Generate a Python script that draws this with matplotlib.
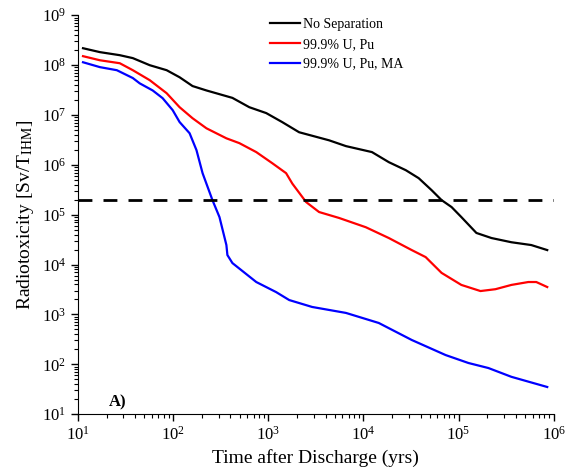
import matplotlib
matplotlib.use("Agg")
import matplotlib.pyplot as plt
import matplotlib.ticker as mticker
import numpy as np

plt.rcParams['font.family'] = ['Liberation Serif', 'DejaVu Serif']
plt.rcParams['mathtext.fontset'] = 'stix'

# No separation
t_none = [11.3, 17.0, 27.5, 37.7, 56.8, 85.5, 117, 160, 224, 420, 632, 952, 1400, 2110,
          4360, 6560, 12300, 18500, 27900, 38100, 52100, 66300, 84500, 107000, 154000,
          222000, 359000, 581000, 855000]
r_none = [2.18e8, 1.82e8, 1.58e8, 1.38e8, 9.95e7, 7.9e7, 5.7e7, 3.8e7, 3.1e7, 2.2e7, 1.43e7,
          1.09e7, 7.2e6, 4.5e6, 3.1e6, 2.37e6, 1.8e6, 1.13e6, 7.8e5, 5.4e5, 3.1e5, 1.96e5,
          1.42e5, 8.95e4, 4.3e4, 3.4e4, 2.8e4, 2.46e4, 1.95e4]

# 99.9% U, Pu
t_upu = [11.3, 17.0, 27.5, 37.7, 56.8, 85.5, 117, 160, 224, 363, 497, 748, 1100, 1540, 1790,
         2500, 3420, 5540, 10600, 18500, 32200, 45100, 66300, 107000, 170000, 244000,
         359000, 541000, 656000, 855000]
r_upu = [1.51e8, 1.25e8, 1.09e8, 7.9e7, 4.98e7, 2.73e7, 1.43e7, 8.6e6, 5.4e6, 3.4e6, 2.72e6,
         1.8e6, 1.08e6, 6.8e5, 4.2e5, 1.79e5, 1.13e5, 8.6e4, 5.6e4, 3.4e4, 1.95e4, 1.41e4,
         6.8e3, 3.9e3, 2.94e3, 3.2e3, 3.9e3, 4.46e3, 4.46e3, 3.54e3]

# 99.9% U, Pu, MA
t_ma = [11.3, 17.0, 25.6, 37.7, 44.6, 61, 77.6, 98.9, 117, 149, 176, 204, 259, 307, 363, 372,
        420, 748, 1210, 1660, 2890, 6560, 14500, 32200, 73100, 127000, 206000, 359000, 855000]
r_ma = [1.14e8, 9.1e7, 7.9e7, 5.5e7, 4.3e7, 3.1e7, 2.17e7, 1.25e7, 7.2e6, 4.3e6, 1.97e6,
        6.8e5, 1.96e5, 8.95e4, 2.46e4, 1.55e4, 1.07e4, 4.46e3, 2.8e3, 1.94e3, 1.41e3, 1.07e3,
        673, 307, 153, 106, 84, 56, 35]

limit = 2e5

fig = plt.figure(figsize=(5.65, 4.76), dpi=100)
ax = fig.add_axes([0.138, 0.130, 0.842, 0.838])

ax.plot(t_none, r_none, color='black', lw=1.6, label='No Separation')
ax.plot(t_upu, r_upu, color='#ff0000', lw=1.6, label='99.9% U, Pu')
ax.plot(t_ma, r_ma, color='#0000ff', lw=1.6, label='99.9% U, Pu, MA')
ax.axhline(limit, color='black', lw=2, ls=(0, (5, 4)))

ax.set_xscale('log')
ax.set_yscale('log')
ax.set_xlim(10, 1e6)
ax.set_ylim(10, 1e9)

ax.spines['top'].set_visible(False)
ax.spines['right'].set_visible(False)
ax.xaxis.set_major_locator(mticker.LogLocator(base=10, numticks=10))
ax.yaxis.set_major_locator(mticker.LogLocator(base=10, numticks=10))
ax.xaxis.set_minor_locator(mticker.LogLocator(base=10, subs=np.arange(2, 10), numticks=20))
ax.yaxis.set_minor_locator(mticker.LogLocator(base=10, subs=np.arange(2, 10), numticks=20))
ax.xaxis.set_minor_formatter(mticker.NullFormatter())
ax.yaxis.set_minor_formatter(mticker.NullFormatter())
ax.tick_params(which='major', direction='out', length=5, width=1, labelsize=12)
ax.tick_params(which='minor', direction='out', length=3, width=0.8)

ax.set_xlabel('Time after Discharge (yrs)', fontsize=14)
ax.set_ylabel(r'Radiotoxicity [Sv/T$_{\mathrm{IHM}}$]', fontsize=14)

ax.text(0.065, 0.02, 'A)', transform=ax.transAxes, fontsize=12, fontweight='bold')

leg = ax.legend(loc='upper right', bbox_to_anchor=(0.71, 1.025), frameon=False, fontsize=10,
                handlelength=2.2, handletextpad=0.2, labelspacing=0.5)

fig.savefig('out.png', dpi=100)
